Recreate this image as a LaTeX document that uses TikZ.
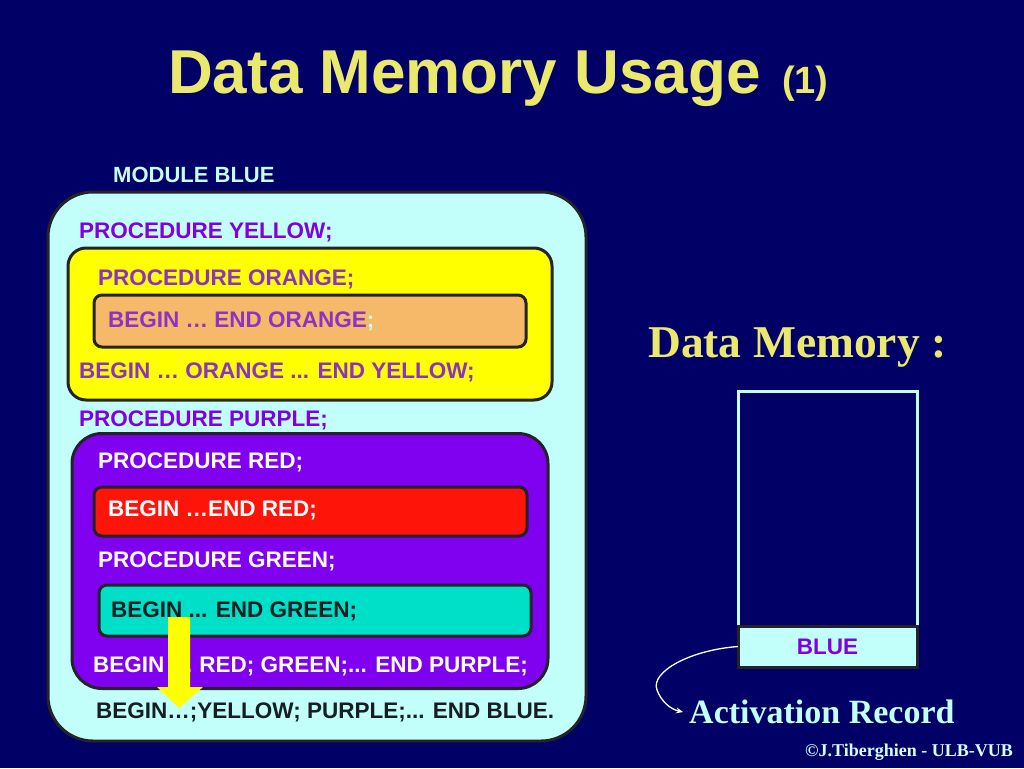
\documentclass[tikz,border=0pt]{standalone}
\usepackage{fontspec}
\setmainfont{Liberation Sans}
\newfontfamily\tms{Liberation Serif}
\usetikzlibrary{arrows.meta}
\definecolor{bg}{RGB}{0,0,102}
\definecolor{lcyan}{RGB}{195,255,250}
\definecolor{ptxt}{RGB}{128,0,224}
\definecolor{ytxt}{RGB}{140,50,200}
\definecolor{yel}{RGB}{255,255,0}
\definecolor{orng}{RGB}{245,185,105}
\definecolor{purp}{RGB}{128,0,240}
\definecolor{redb}{RGB}{255,20,10}
\definecolor{grn}{RGB}{0,224,200}
\definecolor{dtxt}{RGB}{20,30,35}
\definecolor{ttl}{RGB}{235,232,110}
\definecolor{bord}{RGB}{35,35,40}
\tikzset{
  x=1pt, y=-1pt,
  box/.style={draw=bord, line width=3pt, inner sep=0pt, outer sep=0pt},
  lbl/.style={anchor=base west, inner sep=0pt, font=\bfseries\fontsize{22.5}{27}\selectfont},
}
\begin{document}
\begin{tikzpicture}
\fill[bg] (0,0) rectangle (1024,768);
\useasboundingbox (0,0) rectangle (1024,768);

% title
\node[anchor=base west, inner sep=0pt, text=ttl, font=\bfseries\fontsize{62}{70}\selectfont] (title) at (168,93) {Data Memory Usage};
\node[anchor=base west, inner sep=0pt, text=ttl, font=\bfseries\fontsize{38}{44}\selectfont] (titlenum) at (782,93) {(1)};

% module label
\node[lbl, text=lcyan, font=\bfseries\fontsize{22}{26}\selectfont] (modlbl) at (113,182) {MODULE BLUE};

% boxes
\node[box, fill=lcyan, rounded corners=45pt, minimum width=538pt, minimum height=549pt] (outer) at (317,466.5) {};
\node[box, fill=yel, rounded corners=18pt, minimum width=484pt, minimum height=152pt] (yellowbox) at (310,324) {};
\node[box, fill=orng, rounded corners=8pt, minimum width=432pt, minimum height=52pt] (orangebox) at (310,321) {};
\node[box, fill=purp, rounded corners=30pt, minimum width=476pt, minimum height=255pt] (purplebox) at (310,561) {};
\node[box, fill=redb, rounded corners=8pt, minimum width=433pt, minimum height=49pt] (redbox) at (310.5,511.5) {};
\node[box, fill=grn, rounded corners=8pt, minimum width=432pt, minimum height=51pt] (greenbox) at (315,610.5) {};

% texts
\node[lbl, text=ptxt] (t1) at (79,238) {PROCEDURE YELLOW;};
\node[lbl, text=ytxt] (t2) at (98,285) {PROCEDURE ORANGE;};
\node[lbl, text=ytxt] (t3) at (108,327) {BEGIN … END ORANGE\textcolor{lcyan}{;}};
\node[lbl, text=ytxt] (t4) at (79,378) {BEGIN … ORANGE ... END YELLOW;};
\node[lbl, text=ptxt] (t5) at (79,426) {PROCEDURE PURPLE;};
\node[lbl, text=white] (t6) at (98,468) {PROCEDURE RED;};
\node[lbl, text=white] (t7) at (108,516) {BEGIN …END RED;};
\node[lbl, text=white] (t8) at (98,567) {PROCEDURE GREEN;};
\node[lbl, text=dtxt] (t9) at (111,617) {BEGIN ... END GREEN;};
\node[lbl, text=white] (t10) at (93,672) {BEGIN … RED; GREEN;... END PURPLE;};
\node[lbl, text=dtxt] (t11) at (96,718) {BEGIN…;YELLOW; PURPLE;... END BLUE.};

% yellow arrow
\fill[yel] (168,617) -- (190,617) -- (190,687) -- (203,687) -- (179,708) -- (157,687) -- (168,687) -- cycle;

% data memory
\node[anchor=base west, inner sep=0pt, text=ttl, font=\tms\bfseries\fontsize{45.5}{52}\selectfont] (dmlbl) at (648,357) {Data Memory :};
\node[draw=lcyan, line width=3pt, inner sep=0pt, minimum width=179pt, minimum height=276pt] (mem) at (827.5,529) {};
\node[box, fill=lcyan, minimum width=179pt, minimum height=41pt, text=ptxt, font=\bfseries\fontsize{22.5}{27}\selectfont] (bluecell) at (827.5,646.5) {BLUE};

\node[anchor=base west, inner sep=0pt, text=lcyan, font=\tms\bfseries\fontsize{34}{40}\selectfont] (act) at (689,723) {Activation Record};
\coordinate (acttip) at (683,712);
\draw[white, line width=1.3pt, -{Stealth[length=7pt,width=6pt]}] (bluecell.west) .. controls (690,650) and (650,672) .. (657,690) .. controls (661,701) and (670,709) .. (acttip);

\node[anchor=base east, inner sep=0pt, text=lcyan!70!white, font=\tms\bfseries\fontsize{18}{22}\selectfont] (copy) at (1013,756) {©J.Tiberghien - ULB-VUB};
\end{tikzpicture}
\end{document}
